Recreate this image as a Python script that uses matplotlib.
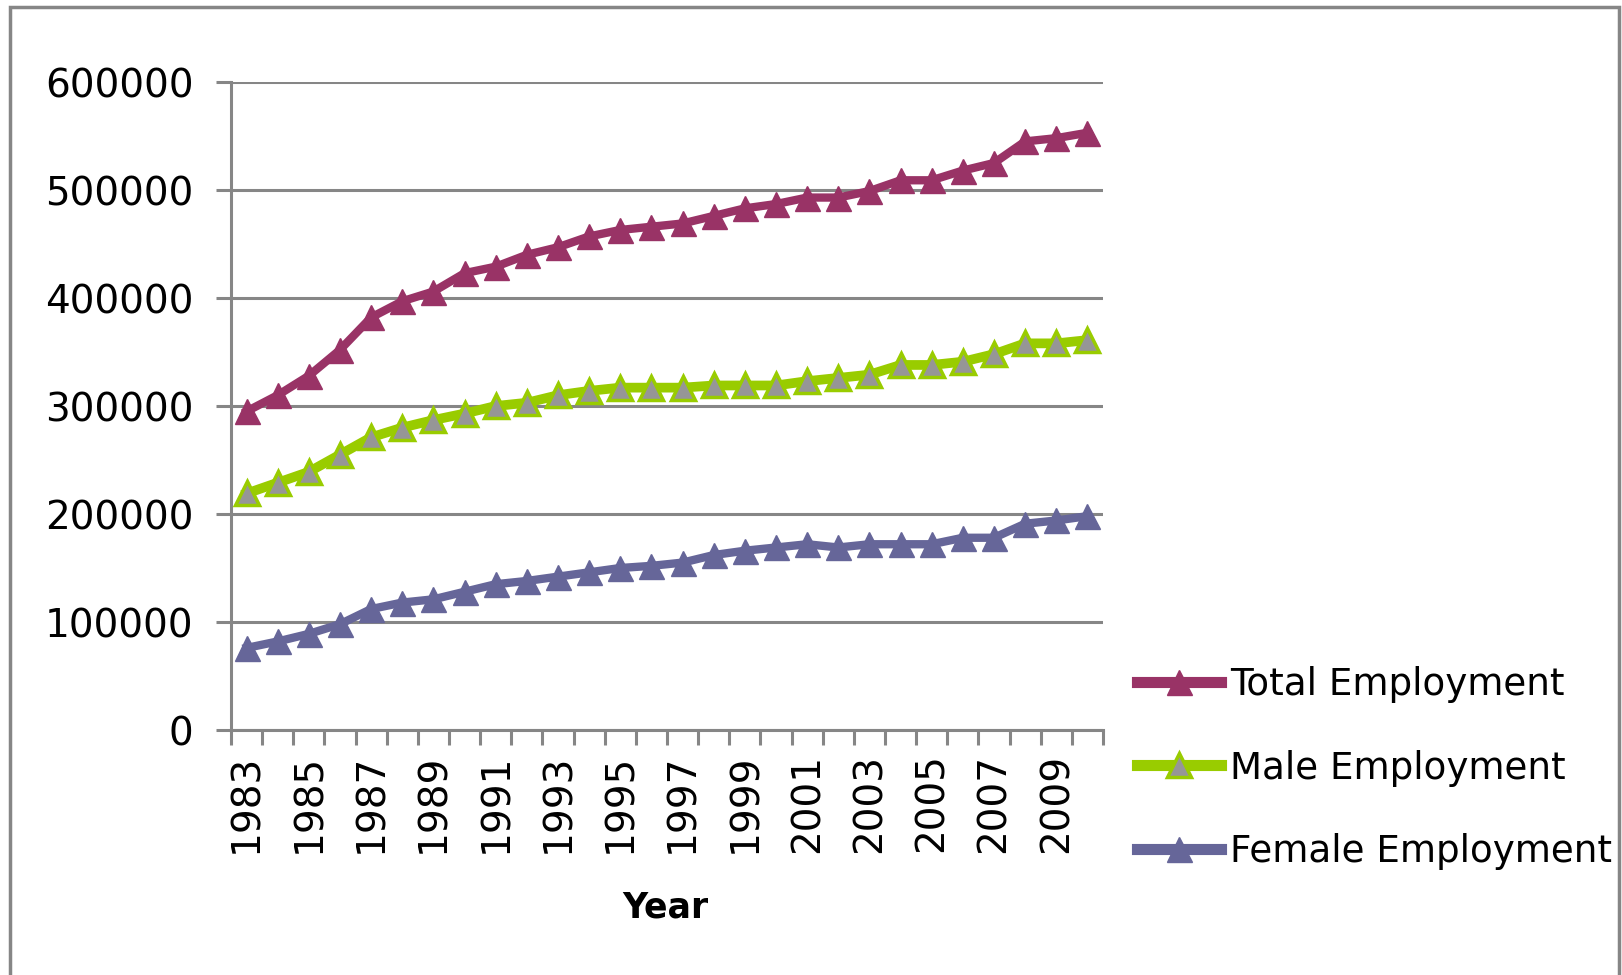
import matplotlib
matplotlib.use("Agg")
import matplotlib.pyplot as plt
from matplotlib.patches import Rectangle
from matplotlib.ticker import FixedLocator, NullFormatter

# Employment series, 1983-2010
years = list(range(1983, 2011))
total_employment = [295000, 310000, 328000, 352000, 382000, 397000, 406000,
                    423000, 429000, 440000, 447000, 457000, 463000, 466000,
                    469000, 476000, 483000, 487000, 493000, 493000, 499000,
                    509000, 509000, 518000, 525000, 545000, 548000, 553000]
male_employment = [219000, 229000, 239000, 255000, 271000, 280000, 287000,
                   293000, 300000, 303000, 310000, 314000, 317000, 317000,
                   317000, 319000, 319000, 319000, 323000, 326000, 329000,
                   338000, 338000, 341000, 348000, 358000, 358000, 361000]
female_employment = [76000, 82000, 89000, 98000, 112000, 118000, 121000,
                     128000, 135000, 138000, 142000, 146000, 150000, 152000,
                     155000, 162000, 166000, 169000, 172000, 169000, 172000,
                     172000, 172000, 178000, 178000, 191000, 194000, 198000]
y_ticks = [0, 100000, 200000, 300000, 400000, 500000, 600000]
series_labels = ["Total Employment", "Male Employment", "Female Employment"]

W, H = 1622, 975
fig = plt.figure(figsize=(W / 100, H / 100), dpi=100)
plt.rcParams["font.family"] = ["DejaVu Sans"]

GREY = "#868686"
ax = fig.add_axes([231 / W, 1 - 730 / H, (1103 - 231) / W, (730 - 82) / H])

x = list(range(len(years)))
ax.plot(x, total_employment, color="#993366", lw=6, marker="^", ms=18,
        mfc="#993366", mec="#993366", solid_joinstyle="miter",
        label=series_labels[0], zorder=3)
ax.plot(x, male_employment, color="#99CC00", lw=7, marker="^", ms=17,
        mfc="#969696", mec="#99CC00", mew=2.5, solid_joinstyle="miter",
        label=series_labels[1], zorder=3)
ax.plot(x, female_employment, color="#666699", lw=6, marker="^", ms=18,
        mfc="#666699", mec="#666699", solid_joinstyle="miter",
        label=series_labels[2], zorder=3)

ax.set_xlim(-0.5, len(years) - 0.5)
ax.set_ylim(0, 600000)

# y axis: gridlines and outward ticks
ax.set_yticks(y_ticks)
ax.set_yticklabels([str(v) for v in y_ticks])
ax.yaxis.grid(True, color=GREY, lw=2.2)
ax.set_axisbelow(True)
ax.tick_params(axis="y", direction="out", length=11, width=2.2, color=GREY,
               pad=16, labelsize=28)

# x axis: tick marks between categories, labels on every other year
ax.set_xticks(x[::2])
ax.set_xticklabels([str(y) for y in years[::2]], rotation=90, va="top")
ax.xaxis.set_minor_locator(FixedLocator([i - 0.5 for i in range(len(years) + 1)]))
ax.xaxis.set_minor_formatter(NullFormatter())
ax.tick_params(axis="x", which="major", length=0, pad=17, labelsize=28)
ax.tick_params(axis="x", which="minor", direction="out", length=11, width=2.2,
               color=GREY)

for side in ("top", "right"):
    ax.spines[side].set_visible(False)
for side in ("left", "bottom"):
    ax.spines[side].set_color(GREY)
    ax.spines[side].set_linewidth(2.2)

fig.text(665 / W, 1 - 908 / H, "Year", ha="center", va="center",
         fontsize=25, fontweight="bold")

leg = ax.legend(loc="upper left", bbox_to_anchor=(1137 / W, 1 - 666 / H),
                bbox_transform=fig.transFigure, frameon=False, fontsize=26.8,
                handlelength=2.25, handletextpad=0.25, labelspacing=1.25,
                borderpad=0, borderaxespad=0)
for line in leg.get_lines():
    line.set_linewidth(8)

# chart frame
fig.patches.append(Rectangle((10 / W, -0.05), (1619 - 10) / W, 1.05 - 7 / H,
                             transform=fig.transFigure, fill=False,
                             edgecolor=GREY, lw=2.5))

fig.savefig("out.png", dpi=100)
